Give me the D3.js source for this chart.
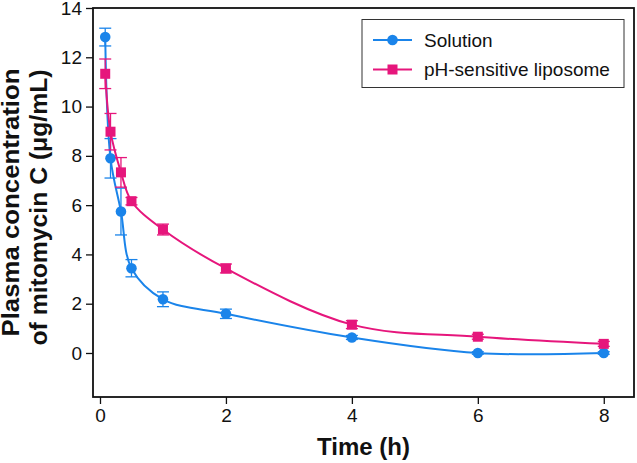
<!DOCTYPE html>
<html><head><meta charset="utf-8">
<script src="https://cdn.jsdelivr.net/npm/d3@7"></script>
<style>
html,body{margin:0;padding:0;background:#fff;}
svg{display:block;font-family:"Liberation Sans",Arial,Helvetica,sans-serif;}
</style></head>
<body>
<svg id="chart" width="637" height="463"></svg>
<script>
const times = [0.083, 0.167, 0.333, 0.5, 1, 2, 4, 6, 8];
const solutionMean = [12.82, 7.9, 5.74, 3.44, 2.18, 1.59, 0.63, 0.0, 0.0];
const solutionErr  = [0.36, 0.8, 0.95, 0.35, 0.3, 0.19, 0.08, 0.05, 0.05];
const liposomeMean = [11.33, 8.98, 7.33, 6.16, 5.01, 3.43, 1.15, 0.66, 0.37];
const liposomeErr  = [0.6, 0.74, 0.6, 0.15, 0.22, 0.18, 0.16, 0.1, 0.1];
const seriesNames = ["Solution", "pH-sensitive liposome"];
const seriesColors = ["#1a84ea", "#e6167c"];
const xTicks = [0, 2, 4, 6, 8];
const yTicks = [0, 2, 4, 6, 8, 10, 12, 14];
const xTitle = "Time (h)";
const yTitleLines = ["Plasma concentration", "of mitomycin C (\u03bcg/mL)"];

const svg = d3.select("#chart");
const L = 93, R = 634, T = 8, B = 397;
const x = d3.scaleLinear().domain([-0.111, 8.48]).range([L, R]);
const y = d3.scaleLinear().domain([-1.786, 14]).range([B, T]);

// axes
const yAxis = d3.axisLeft(y).tickValues(yTicks).tickSize(7).tickPadding(4).tickFormat(d3.format("d"));
const gy = svg.append("g").attr("transform", `translate(${L},0)`).call(yAxis);
gy.select(".domain").remove();
gy.selectAll(".tick line").attr("stroke", "#111").attr("stroke-width", 1.3);
gy.selectAll(".tick text").attr("font-size", 19).attr("fill", "#111")
  .attr("font-family", "'Liberation Sans',Arial,sans-serif");

const xAxis = d3.axisBottom(x).tickValues(xTicks).tickSize(7).tickPadding(5).tickFormat(d3.format("d"));
const gx = svg.append("g").attr("transform", `translate(0,${B})`).call(xAxis);
gx.select(".domain").remove();
gx.selectAll(".tick line").attr("stroke", "#111").attr("stroke-width", 1.3);
gx.selectAll(".tick text").attr("font-size", 19).attr("fill", "#111")
  .attr("font-family", "'Liberation Sans',Arial,sans-serif");

// frame
svg.append("rect").attr("x", L).attr("y", T).attr("width", R - L).attr("height", B - T)
  .attr("fill", "none").attr("stroke", "#111").attr("stroke-width", 1.8);

// titles
svg.append("text").attr("x", (L + R) / 2).attr("y", 455).attr("text-anchor", "middle")
  .attr("font-size", 24).attr("font-weight", "bold").attr("fill", "#111").text(xTitle);
const yCenter = (T + B) / 2;
svg.append("text").attr("transform", `translate(19,${yCenter}) rotate(-90)`)
  .attr("text-anchor", "middle").attr("font-size", 23).attr("font-weight", "bold").attr("fill", "#111")
  .attr("textLength", 268).attr("lengthAdjust", "spacingAndGlyphs").text(yTitleLines[0]);
svg.append("text").attr("transform", `translate(47,${yCenter + 5}) rotate(-90)`)
  .attr("text-anchor", "middle").attr("font-size", 23).attr("font-weight", "bold").attr("fill", "#111")
  .attr("textLength", 276).attr("lengthAdjust", "spacingAndGlyphs").text(yTitleLines[1]);

// series
const series = [
  {name: seriesNames[0], color: seriesColors[0], mean: solutionMean, err: solutionErr, shape: "circle"},
  {name: seriesNames[1], color: seriesColors[1], mean: liposomeMean, err: liposomeErr, shape: "square"}
];
const line = d3.line().x(d => x(d.t)).y(d => y(d.v)).curve(d3.curveCatmullRom.alpha(0.5));
const capW = 6;

function drawMarker(g, shape, cx, cy, color) {
  if (shape === "circle") {
    g.append("circle").attr("cx", cx).attr("cy", cy).attr("r", 5.3).attr("fill", color);
  } else {
    g.append("rect").attr("x", cx - 5).attr("y", cy - 5).attr("width", 10).attr("height", 10).attr("fill", color);
  }
}

series.forEach(s => {
  const pts = times.map((t, i) => ({t, v: s.mean[i], e: s.err[i]}));
  const g = svg.append("g");
  // error bars
  pts.forEach(p => {
    const cx = x(p.t), y1 = y(p.v + p.e), y2 = y(p.v - p.e);
    g.append("line").attr("x1", cx).attr("x2", cx).attr("y1", y1).attr("y2", y2)
      .attr("stroke", s.color).attr("stroke-width", 1.3);
    [y1, y2].forEach(yy => g.append("line").attr("x1", cx - capW).attr("x2", cx + capW)
      .attr("y1", yy).attr("y2", yy).attr("stroke", s.color).attr("stroke-width", 1.3));
  });
  g.append("path").datum(pts).attr("d", line).attr("fill", "none")
    .attr("stroke", s.color).attr("stroke-width", 2);
  pts.forEach(p => drawMarker(g, s.shape, x(p.t), y(p.v), s.color));
});

// legend
const lg = svg.append("g");
lg.append("rect").attr("x", 362).attr("y", 19.5).attr("width", 262).attr("height", 68)
  .attr("fill", "#fff").attr("stroke", "#333").attr("stroke-width", 1);
series.forEach((s, i) => {
  const ly = 40 + i * 29.5;
  lg.append("line").attr("x1", 373).attr("x2", 412).attr("y1", ly).attr("y2", ly)
    .attr("stroke", s.color).attr("stroke-width", 2);
  drawMarker(lg, s.shape, 392.5, ly, s.color);
  lg.append("text").attr("x", 424).attr("y", ly + 6.5).attr("font-size", 19).attr("fill", "#111").text(s.name);
});
</script>
</body></html>
